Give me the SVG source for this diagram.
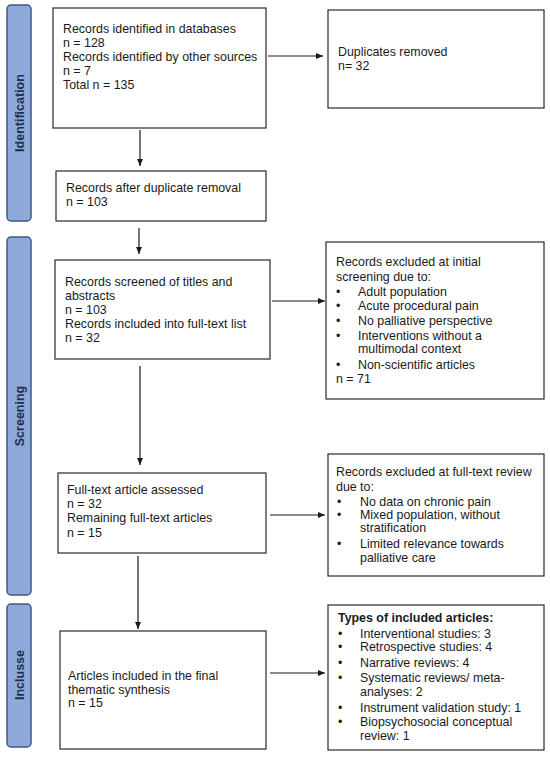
<svg xmlns="http://www.w3.org/2000/svg" width="550" height="757" viewBox="0 0 550 757">
<style>
.box{fill:#fff;stroke:#3a3a3a;stroke-width:1.3}
.bar{fill:#8eaadb;stroke:#41587f;stroke-width:1.5}
.t{font-family:"Liberation Sans",Arial,sans-serif;font-size:12.4px;fill:#1a1a1a}
.b{font-weight:bold}
.lab{font-family:"Liberation Sans",Arial,sans-serif;font-size:12.5px;font-weight:bold;fill:#1f2f4d;text-anchor:middle}
.c{stroke:#1a1a1a;stroke-width:1.2;fill:none}
</style>
<defs>
<marker id="ah" markerWidth="8" markerHeight="8" refX="7" refY="4" orient="auto" markerUnits="userSpaceOnUse">
<path d="M0,1 L7,4 L0,7 Z" fill="#1a1a1a"/>
</marker>
</defs>
<rect width="550" height="757" fill="#fff"/>
<g id="phase-identification">
<rect class="bar" x="7" y="5" width="24" height="216" rx="4"/>
<text class="lab" transform="translate(23.5,113) rotate(-90)">Identification</text>
</g>
<g id="phase-screening">
<rect class="bar" x="7" y="237" width="24" height="358" rx="4"/>
<text class="lab" transform="translate(23.5,416) rotate(-90)">Screening</text>
</g>
<g id="phase-inclusion">
<rect class="bar" x="7" y="604" width="24" height="143" rx="4"/>
<text class="lab" transform="translate(23.5,675) rotate(-90)">Inclusse</text>
</g>
<g id="connectors">
<line class="c" x1="268" y1="56" x2="323" y2="56" marker-end="url(#ah)"/>
<line class="c" x1="140" y1="130" x2="140" y2="166" marker-end="url(#ah)"/>
<line class="c" x1="139" y1="228" x2="139" y2="254" marker-end="url(#ah)"/>
<line class="c" x1="272" y1="301" x2="325" y2="301" marker-end="url(#ah)"/>
<line class="c" x1="140" y1="366" x2="140" y2="465" marker-end="url(#ah)"/>
<line class="c" x1="270" y1="515" x2="325" y2="515" marker-end="url(#ah)"/>
<line class="c" x1="138" y1="556" x2="138" y2="629" marker-end="url(#ah)"/>
<line class="c" x1="270" y1="673" x2="325" y2="673" marker-end="url(#ah)"/>
</g>
<g id="n1">
<rect class="box" x="53" y="8" width="213" height="120"/>
<text class="t" x="63" y="33">Records identified in databases</text>
<text class="t" x="63" y="47">n = 128</text>
<text class="t" x="63" y="61">Records identified by other sources</text>
<text class="t" x="63" y="75">n = 7</text>
<text class="t" x="63" y="89">Total n = 135</text>
</g>
<g id="n2">
<rect class="box" x="328" y="10" width="216" height="98"/>
<text class="t" x="338" y="56">Duplicates removed</text>
<text class="t" x="338" y="70">n= 32</text>
</g>
<g id="n3">
<rect class="box" x="56" y="171" width="210" height="50"/>
<text class="t" x="66" y="192">Records after duplicate removal</text>
<text class="t" x="66" y="206">n = 103</text>
</g>
<g id="n4">
<rect class="box" x="55" y="260" width="215" height="99"/>
<text class="t" x="65" y="286">Records screened of titles and</text>
<text class="t" x="65" y="300">abstracts</text>
<text class="t" x="65" y="314">n = 103</text>
<text class="t" x="65" y="328">Records included into full-text list</text>
<text class="t" x="65" y="342">n = 32</text>
</g>
<g id="n5">
<rect class="box" x="326" y="242" width="218" height="157"/>
<text class="t" x="336" y="266">Records excluded at initial</text>
<text class="t" x="336" y="281">screening due to:</text>
<text class="t" x="336" y="296">•</text><text class="t" x="358" y="296">Adult population</text>
<text class="t" x="336" y="310">•</text><text class="t" x="358" y="310">Acute procedural pain</text>
<text class="t" x="336" y="325">•</text><text class="t" x="358" y="325">No palliative perspective</text>
<text class="t" x="336" y="340">•</text><text class="t" x="358" y="340">Interventions without a</text>
<text class="t" x="358" y="353">multimodal context</text>
<text class="t" x="336" y="369">•</text><text class="t" x="358" y="369">Non-scientific articles</text>
<text class="t" x="336" y="383">n = 71</text>
</g>
<g id="n6">
<rect class="box" x="58" y="473" width="208" height="80"/>
<text class="t" x="67" y="494">Full-text article assessed</text>
<text class="t" x="67" y="508">n = 32</text>
<text class="t" x="67" y="522">Remaining full-text articles</text>
<text class="t" x="67" y="537">n = 15</text>
</g>
<g id="n7">
<rect class="box" x="328" y="454" width="216" height="122"/>
<text class="t" x="336" y="476">Records excluded at full-text review</text>
<text class="t" x="336" y="491">due to:</text>
<text class="t" x="337" y="506">•</text><text class="t" x="360" y="506">No data on chronic pain</text>
<text class="t" x="337" y="519">•</text><text class="t" x="360" y="519">Mixed population, without</text>
<text class="t" x="360" y="532">stratification</text>
<text class="t" x="337" y="548">•</text><text class="t" x="360" y="548">Limited relevance towards</text>
<text class="t" x="360" y="562">palliative care</text>
</g>
<g id="n8">
<rect class="box" x="60" y="631" width="206" height="118"/>
<text class="t" x="68" y="680">Articles included in the final</text>
<text class="t" x="68" y="694">thematic synthesis</text>
<text class="t" x="68" y="707">n = 15</text>
</g>
<g id="n9">
<rect class="box" x="328" y="605" width="216" height="145"/>
<text class="t b" x="338" y="622">Types of included articles:</text>
<text class="t" x="338" y="638">•</text><text class="t" x="360" y="638">Interventional studies: 3</text>
<text class="t" x="338" y="651">•</text><text class="t" x="360" y="651">Retrospective studies: 4</text>
<text class="t" x="338" y="667">•</text><text class="t" x="360" y="667">Narrative reviews: 4</text>
<text class="t" x="338" y="682">•</text><text class="t" x="360" y="682">Systematic reviews/ meta-</text>
<text class="t" x="360" y="696">analyses: 2</text>
<text class="t" x="338" y="712">•</text><text class="t" x="360" y="712">Instrument validation study: 1</text>
<text class="t" x="338" y="726">•</text><text class="t" x="360" y="726">Biopsychosocial conceptual</text>
<text class="t" x="360" y="740">review: 1</text>
</g>
</svg>
